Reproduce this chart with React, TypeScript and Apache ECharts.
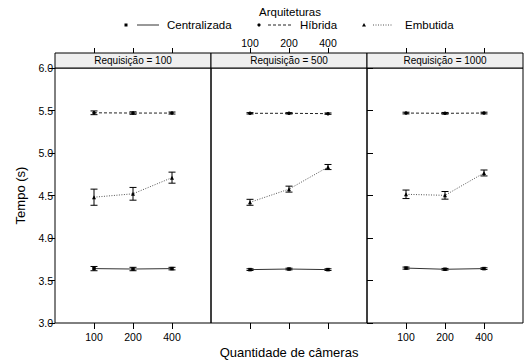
import React, { useEffect, useRef } from "react";
import * as echarts from "echarts";

// ---- data ----
const requisicoes = [100, 500, 1000];
const cameraLabels = ["100", "200", "400"];
const cameraPositions = [1, 2, 3];

const architectures = ["Centralizada", "Híbrida", "Embutida"];
const xTitle = "Quantidade de câmeras";
const yTitle = "Tempo (s)";
const legendTitle = "Arquiteturas";

// means per panel (Requisição = 100, 500, 1000), per camera count (100, 200, 400)
const centralizadaMean = [
  [3.64, 3.635, 3.64],
  [3.628, 3.635, 3.628],
  [3.646, 3.632, 3.64],
];
const centralizadaErr = [
  [0.025, 0.02, 0.015],
  [0.01, 0.01, 0.01],
  [0.012, 0.01, 0.01],
];
const hibridaMean = [
  [5.473, 5.47, 5.47],
  [5.467, 5.467, 5.463],
  [5.47, 5.467, 5.47],
];
const hibridaErr = [
  [0.022, 0.015, 0.012],
  [0.008, 0.008, 0.008],
  [0.01, 0.01, 0.01],
];
const embutidaMean = [
  [4.48, 4.52, 4.71],
  [4.42, 4.575, 4.835],
  [4.514, 4.502, 4.765],
];
const embutidaErr = [
  [0.095, 0.075, 0.065],
  [0.035, 0.035, 0.03],
  [0.05, 0.045, 0.035],
];

const FONT = "Liberation Sans, Arial, sans-serif";

// ---- layout ----
const PANEL_LEFT = 55;
const PANEL_W = 156;
const PANEL_TOP = 68;
const PANEL_H = 255;
const STRIP_H = 15;

const archStyles = [
  { symbol: "rect", symbolSize: 3.5, lineType: "solid" as any, color: "#333" },
  { symbol: "circle", symbolSize: 3.5, lineType: [3, 2] as any, color: "#222" },
  { symbol: "triangle", symbolSize: 4, lineType: [1, 1.5] as any, color: "#555" },
];

export default function App() {
  const ref = useRef<HTMLDivElement>(null);

  useEffect(() => {
    if (!ref.current) return;
    const chart = echarts.init(ref.current, undefined, { renderer: "svg" });

    const means = [centralizadaMean, hibridaMean, embutidaMean];
    const errs = [centralizadaErr, hibridaErr, embutidaErr];

    const grids: any[] = [];
    const xAxes: any[] = [];
    const yAxes: any[] = [];
    const series: any[] = [];
    const graphics: any[] = [];

    const tickLabelStyle = {
      fontSize: 10.5,
      color: "#000",
      fontFamily: FONT,
    };

    requisicoes.forEach((req, i) => {
      const left = PANEL_LEFT + PANEL_W * i;
      grids.push({
        left,
        top: PANEL_TOP,
        width: PANEL_W,
        height: PANEL_H,
        show: true,
        borderColor: "#000",
        borderWidth: 1,
        backgroundColor: "transparent",
        containLabel: false,
        outerBoundsMode: "none",
      });
      // bottom x axis
      xAxes.push({
        type: "value",
        gridIndex: i,
        position: "bottom",
        min: 0,
        max: 4,
        interval: 1,
        axisLine: { show: false },
        splitLine: { show: false },
        axisTick: {
          show: true,
          customValues: cameraPositions,
          length: 6,
          lineStyle: { color: "#000", width: 1 },
        },
        axisLabel: {
          show: i !== 1,
          customValues: cameraPositions,
          formatter: (v: number) => cameraLabels[cameraPositions.indexOf(v)] ?? "",
          margin: 8,
          ...tickLabelStyle,
        },
      });
      // top x axis
      xAxes.push({
        type: "value",
        gridIndex: i,
        position: "top",
        offset: STRIP_H,
        min: 0,
        max: 4,
        interval: 1,
        axisLine: { show: false },
        splitLine: { show: false },
        axisTick: {
          show: true,
          customValues: cameraPositions,
          length: 5,
          lineStyle: { color: "#000", width: 1 },
        },
        axisLabel: {
          show: i === 1,
          customValues: cameraPositions,
          formatter: (v: number) => cameraLabels[cameraPositions.indexOf(v)] ?? "",
          margin: 5,
          ...tickLabelStyle,
        },
      });
      yAxes.push({
        type: "value",
        gridIndex: i,
        position: "left",
        min: 3,
        max: 6,
        interval: 0.5,
        axisLine: { show: false },
        splitLine: { show: false },
        axisTick: { show: i === 0, length: 6, lineStyle: { color: "#000" } },
        axisLabel: {
          show: i === 0,
          formatter: (v: number) => v.toFixed(1),
          margin: 2,
          ...tickLabelStyle,
        },
      });

      // strip
      graphics.push({
        type: "rect",
        z: 10,
        shape: { x: left, y: PANEL_TOP - STRIP_H, width: PANEL_W, height: STRIP_H },
        style: { fill: "#efefef", stroke: "#000", lineWidth: 1 },
      });
      graphics.push({
        type: "text",
        z: 11,
        x: left + PANEL_W / 2,
        y: PANEL_TOP - STRIP_H / 2,
        style: {
          text: `Requisição = ${req}`,
          fontSize: 10,
          fontFamily: FONT,
          fill: "#000",
          align: "center",
          verticalAlign: "middle",
        },
      });

      // series
      architectures.forEach((arch, a) => {
        const st = archStyles[a];
        series.push({
          name: arch,
          type: "line",
          xAxisIndex: 2 * i,
          yAxisIndex: i,
          data: cameraPositions.map((x, k) => [x, means[a][i][k]]),
          symbol: st.symbol,
          symbolSize: st.symbolSize,
          itemStyle: { color: "#000" },
          lineStyle: { color: st.color, width: 1, type: st.lineType },
          z: 3,
        });
        series.push({
          name: arch + " erro",
          type: "custom",
          xAxisIndex: 2 * i,
          yAxisIndex: i,
          data: cameraPositions.map((x, k) => [
            x,
            means[a][i][k] - errs[a][i][k],
            means[a][i][k] + errs[a][i][k],
          ]),
          encode: { x: 0, y: [1, 2] },
          z: 4,
          renderItem: (params: any, api: any) => {
            const x = api.value(0);
            const p1 = api.coord([x, api.value(1)]);
            const p2 = api.coord([x, api.value(2)]);
            const hw = 3.5;
            const style = { stroke: "#000", lineWidth: 1 };
            return {
              type: "group",
              children: [
                { type: "line", shape: { x1: p1[0], y1: p1[1], x2: p2[0], y2: p2[1] }, style },
                { type: "line", shape: { x1: p1[0] - hw, y1: p1[1], x2: p1[0] + hw, y2: p1[1] }, style },
                { type: "line", shape: { x1: p2[0] - hw, y1: p2[1], x2: p2[0] + hw, y2: p2[1] }, style },
              ],
            };
          },
        });
      });
    });

    // right y axis for last panel (ticks only)
    yAxes.push({
      type: "value",
      gridIndex: 2,
      position: "right",
      min: 3,
      max: 6,
      interval: 0.5,
      axisLine: { show: false },
      splitLine: { show: false },
      axisTick: { show: true, length: 6, lineStyle: { color: "#000" } },
      axisLabel: { show: false },
    });

    // axis titles
    graphics.push({
      type: "text",
      x: PANEL_LEFT + (PANEL_W * 3) / 2,
      y: 352,
      style: {
        text: xTitle,
        fontSize: 13,
        fontFamily: FONT,
        fill: "#000",
        align: "center",
        verticalAlign: "middle",
      },
    });
    graphics.push({
      type: "text",
      x: 20,
      y: PANEL_TOP + PANEL_H / 2,
      rotation: Math.PI / 2,
      style: {
        text: yTitle,
        fontSize: 13,
        fontFamily: FONT,
        fill: "#000",
        align: "center",
        verticalAlign: "middle",
      },
    });

    // legend (drawn)
    const legendY = 25;
    graphics.push({
      type: "text",
      x: 290,
      y: 12,
      style: {
        text: legendTitle,
        fontSize: 11.5,
        fontFamily: FONT,
        fill: "#000",
        align: "center",
        verticalAlign: "middle",
      },
    });
    const legendItems = [
      { marker: 126, l1: 137, l2: 159, text: 167 },
      { marker: 259, l1: 268, l2: 292, text: 300 },
      { marker: 364, l1: 373, l2: 393, text: 405 },
    ];
    legendItems.forEach((it, a) => {
      const st = archStyles[a];
      if (a === 0) {
        graphics.push({
          type: "rect",
          shape: { x: it.marker - 1.5, y: legendY - 1.5, width: 3, height: 3 },
          style: { fill: "#000" },
        });
      } else if (a === 1) {
        graphics.push({
          type: "circle",
          shape: { cx: it.marker, cy: legendY, r: 1.6 },
          style: { fill: "#000" },
        });
      } else {
        graphics.push({
          type: "polygon",
          shape: {
            points: [
              [it.marker, legendY - 2],
              [it.marker - 2, legendY + 1.5],
              [it.marker + 2, legendY + 1.5],
            ],
          },
          style: { fill: "#000" },
        });
      }
      graphics.push({
        type: "line",
        shape: { x1: it.l1, y1: legendY, x2: it.l2, y2: legendY },
        style: { stroke: st.color, lineWidth: 1, lineDash: st.lineType === "solid" ? null : st.lineType },
      });
      graphics.push({
        type: "text",
        x: it.text,
        y: legendY,
        style: {
          text: architectures[a],
          fontSize: 11.5,
          fontFamily: FONT,
          fill: "#000",
          align: "left",
          verticalAlign: "middle",
        },
      });
    });

    chart.setOption({
      animation: false,
      backgroundColor: "#fff",
      grid: grids,
      xAxis: xAxes,
      yAxis: yAxes,
      series,
      graphic: graphics,
    });

    return () => chart.dispose();
  }, []);

  return (
    <div
      ref={ref}
      style={{ position: "fixed", left: 0, top: 0, width: 525, height: 360 }}
    />
  );
}
